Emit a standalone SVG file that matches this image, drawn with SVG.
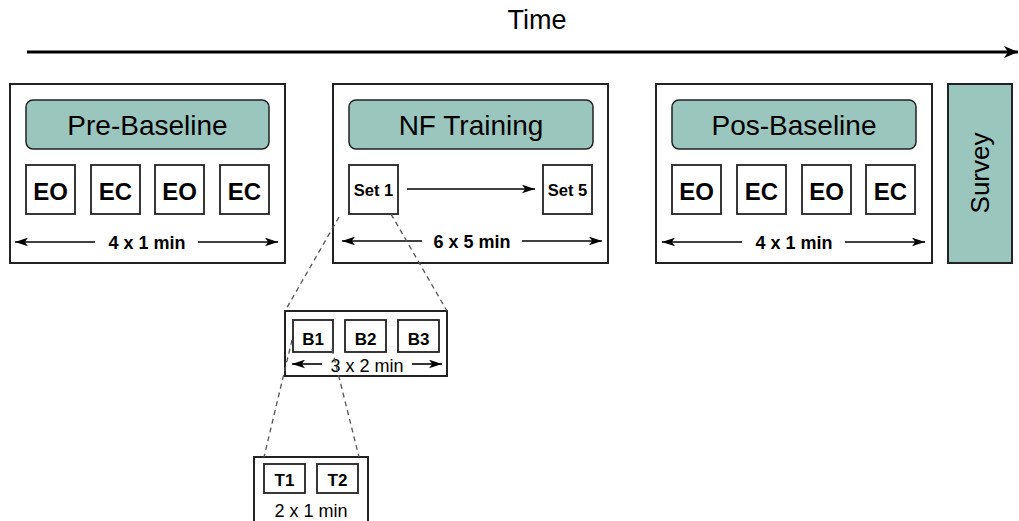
<svg xmlns="http://www.w3.org/2000/svg" width="1019" height="521" viewBox="0 0 1019 521">
<defs>
<style>
.frame{fill:#fff;stroke:#222;stroke-width:2}
.head{fill:#9bc6be;stroke:#222;stroke-width:1.5}
.sq{fill:#fff;stroke:#222;stroke-width:1.8}
.t{font-family:"Liberation Sans",Arial,sans-serif;fill:#000;text-anchor:middle}
.hd{font-size:28px}
.big{font-size:24px;font-weight:bold}
.dur{font-size:18px;font-weight:bold}
.sm{font-size:17px;font-weight:bold}
.reg{font-size:18px}
.ln{stroke:#000;stroke-width:1.6;fill:none}
.dash{stroke:#555;stroke-width:1.3;stroke-dasharray:5 4;fill:none}
</style>
<marker id="ah" viewBox="0 0 12 8" refX="12" refY="4" markerWidth="13" markerHeight="9" markerUnits="userSpaceOnUse" orient="auto-start-reverse">
<path d="M0,0 L12,4 L0,8 L3,4 Z" fill="#000"/>
</marker>
<marker id="ahb" viewBox="0 0 14 12" refX="14" refY="6" markerWidth="14" markerHeight="12" markerUnits="userSpaceOnUse" orient="auto">
<path d="M0,0 L14,6 L0,12 L4,6 Z" fill="#000"/>
</marker>
</defs>

<g id="time">
<text class="t" x="537" y="29" style="font-size:27px">Time</text>
<line x1="27" y1="52" x2="1018" y2="52" stroke="#000" stroke-width="3" marker-end="url(#ahb)"/>
</g>

<g id="pre-baseline">
<rect class="frame" x="10" y="84" width="275" height="179"/>
<rect class="head" x="26" y="100" width="243" height="49" rx="7"/>
<text class="t hd" x="147.5" y="135">Pre-Baseline</text>
<rect class="sq" x="26" y="165" width="49" height="49"/>
<rect class="sq" x="91" y="165" width="49" height="49"/>
<rect class="sq" x="155" y="165" width="49" height="49"/>
<rect class="sq" x="220" y="165" width="49" height="49"/>
<text class="t big" x="50.5" y="200">EO</text>
<text class="t big" x="115.5" y="200">EC</text>
<text class="t big" x="179.5" y="200">EO</text>
<text class="t big" x="244.5" y="200">EC</text>
<line class="ln" x1="95" y1="242" x2="15" y2="242" marker-end="url(#ah)"/>
<line class="ln" x1="198" y1="242" x2="278" y2="242" marker-end="url(#ah)"/>
<text class="t dur" x="147" y="249">4 x 1 min</text>
</g>

<g id="nf-training">
<rect class="frame" x="333" y="84" width="275" height="179"/>
<rect class="head" x="349" y="100" width="244" height="49" rx="7"/>
<text class="t hd" x="471" y="135">NF Training</text>
<rect class="sq" x="349" y="165" width="49" height="49"/>
<rect class="sq" x="543" y="165" width="49" height="49"/>
<text class="t" x="373.5" y="196" style="font-size:16.5px;font-weight:bold">Set 1</text>
<text class="t" x="567.5" y="196" style="font-size:16.5px;font-weight:bold">Set 5</text>
<line class="ln" x1="407" y1="189" x2="535" y2="189" marker-end="url(#ah)"/>
<line class="ln" x1="422" y1="241" x2="342" y2="241" marker-end="url(#ah)"/>
<line class="ln" x1="522" y1="241" x2="602" y2="241" marker-end="url(#ah)"/>
<text class="t dur" x="472" y="248">6 x 5 min</text>
</g>

<g id="pos-baseline">
<rect class="frame" x="656" y="84" width="276" height="179"/>
<rect class="head" x="672" y="100" width="244" height="49" rx="7"/>
<text class="t hd" x="794" y="135">Pos-Baseline</text>
<rect class="sq" x="672" y="165" width="49" height="49"/>
<rect class="sq" x="737" y="165" width="49" height="49"/>
<rect class="sq" x="802" y="165" width="49" height="49"/>
<rect class="sq" x="866" y="165" width="49" height="49"/>
<text class="t big" x="696.5" y="200">EO</text>
<text class="t big" x="761.5" y="200">EC</text>
<text class="t big" x="826.5" y="200">EO</text>
<text class="t big" x="890.5" y="200">EC</text>
<line class="ln" x1="742" y1="242" x2="662" y2="242" marker-end="url(#ah)"/>
<line class="ln" x1="845" y1="242" x2="925" y2="242" marker-end="url(#ah)"/>
<text class="t dur" x="794" y="249">4 x 1 min</text>
</g>

<g id="survey">
<rect x="948" y="84" width="64" height="179" fill="#9bc6be" stroke="#222" stroke-width="2"/>
<text class="t" x="0" y="0" style="font-size:26px" transform="translate(989,173) rotate(-90)">Survey</text>
</g>

<g id="blocks">
<rect x="285" y="311" width="162" height="65" fill="#fff" stroke="#222" stroke-width="2"/>
<rect class="sq" x="293" y="320" width="40" height="32"/>
<rect class="sq" x="345" y="320" width="41" height="32"/>
<rect class="sq" x="398" y="320" width="41" height="32"/>
<text class="t sm" x="313" y="345">B1</text>
<text class="t sm" x="365.5" y="345">B2</text>
<text class="t sm" x="418.5" y="345">B3</text>
<line class="ln" x1="322" y1="364" x2="292" y2="364" marker-end="url(#ah)"/>
<line class="ln" x1="412" y1="364" x2="442" y2="364" marker-end="url(#ah)"/>
<text class="t reg" x="367" y="372">3 x 2 min</text>
</g>

<g id="trials">
<rect x="254" y="457" width="114" height="70" fill="#fff" stroke="#222" stroke-width="2"/>
<rect class="sq" x="264" y="464" width="41" height="29"/>
<rect class="sq" x="317" y="464" width="41" height="29"/>
<text class="t sm" x="284.5" y="486">T1</text>
<text class="t sm" x="337.5" y="486">T2</text>
<text class="t reg" x="311" y="517">2 x 1 min</text>
</g>

<g id="connectors">
<line class="dash" x1="339" y1="217" x2="285" y2="311"/>
<line class="dash" x1="391" y1="214" x2="447" y2="311"/>
<line class="dash" x1="292" y1="340" x2="264" y2="457"/>
<line class="dash" x1="332" y1="349" x2="359" y2="457"/>
</g>
</svg>
